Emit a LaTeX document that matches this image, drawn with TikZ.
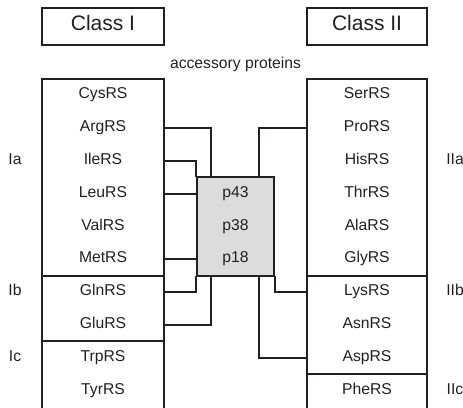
\documentclass[tikz,border=0pt]{standalone}
\usepackage{fontspec}
\setmainfont{Liberation Sans}
\definecolor{ink}{HTML}{231F20}
\definecolor{boxfill}{HTML}{DCDCDD}
\begin{document}
\begin{tikzpicture}[x=1bp,y=-1bp,
  heavy/.style={draw=ink,line width=2bp},
  conn/.style={draw=ink,line width=2bp,line cap=rect},
  rowtxt/.style={font=\fontsize{15.7bp}{17bp}\selectfont,text=ink,inner sep=0pt,
    text height=0.72em,text depth=0pt,minimum width=120bp,minimum height=32.8bp},
  classbox/.style={heavy,font=\fontsize{21bp}{24bp}\selectfont,text=ink,
    minimum width=122bp,minimum height=37bp,inner sep=0pt,text height=0.72em,text depth=0pt},
  grp/.style={font=\fontsize{15.7bp}{17bp}\selectfont,text=ink,inner sep=0pt,
    text height=0.72em,text depth=0pt}]
\useasboundingbox (0,0) rectangle (463,407);
% class headers
\node[classbox] (c1) at (103,26.5) {Class I};
\node[classbox,minimum width=120bp] (c2) at (367,26.5) {Class II};
\node[font=\fontsize{15.7bp}{17bp}\selectfont,text=ink,anchor=base,inner sep=0pt] (acc) at (235.5,68) {accessory proteins};
% column outlines
\draw[heavy] (42,410) -- (42,79) -- (164,79) -- (164,410);
\draw[heavy] (42,275.8) -- (164,275.8);
\draw[heavy] (42,341.4) -- (164,341.4);
\draw[heavy] (307,410) -- (307,79) -- (427,79) -- (427,410);
\draw[heavy] (307,275.8) -- (427,275.8);
\draw[heavy] (307,374.2) -- (427,374.2);
% left rows
\foreach \n/\t [count=\i from 0] in {cys/CysRS,arg/ArgRS,ile/IleRS,leu/LeuRS,val/ValRS,met/MetRS,gln/GlnRS,glu/GluRS,trp/TrpRS,tyr/TyrRS}
  \node[rowtxt,minimum width=122bp] (\n) at (103,95.4+32.8*\i) {\t};
% right rows
\foreach \n/\t [count=\i from 0] in {ser/SerRS,pro/ProRS,his/HisRS,thr/ThrRS,ala/AlaRS,gly/GlyRS,lys/LysRS,asn/AsnRS,asp/AspRS,phe/PheRS}
  \node[rowtxt] (\n) at (367,95.4+32.8*\i) {\t};
% group labels
\node[grp] (ia) at (15,161) {Ia};
\node[grp] (ib) at (15,292.2) {Ib};
\node[grp] (ic) at (15,357.8) {Ic};
\node[grp] (iia) at (455,161) {IIa};
\node[grp] (iib) at (455,292.2) {IIb};
\node[grp] (iic) at (455,390.6) {IIc};
% accessory protein box
\node[draw=ink,line width=2bp,fill=boxfill,minimum width=77bp,minimum height=98.4bp,inner sep=0pt] (pbox) at (235.5,226.6) {};
\node[rowtxt,minimum width=70bp] (p43) at (235.5,193.8) {p43};
\node[rowtxt,minimum width=70bp] (p38) at (235.5,226.6) {p38};
\node[rowtxt,minimum width=70bp] (p18) at (235.5,259.4) {p18};
% connectors left
\draw[conn] (arg.east) -| ([xshift=15bp]pbox.north west);
\draw[conn] (ile.east) -| (pbox.north west);
\draw[conn] (leu.east) -- (leu.east -| pbox.west);
\draw[conn] (met.east) -- (met.east -| pbox.west);
\draw[conn] (gln.east) -| (pbox.south west);
\draw[conn] (glu.east) -| ([xshift=15bp]pbox.south west);
% connectors right
\draw[conn] ([xshift=-1bp]pro.west) -| ([xshift=-16bp]pbox.north east);
\draw[conn] ([xshift=-1bp]lys.west) -| (pbox.south east);
\draw[conn] ([xshift=-1bp]asp.west) -| ([xshift=-16bp]pbox.south east);
\end{tikzpicture}
\end{document}
